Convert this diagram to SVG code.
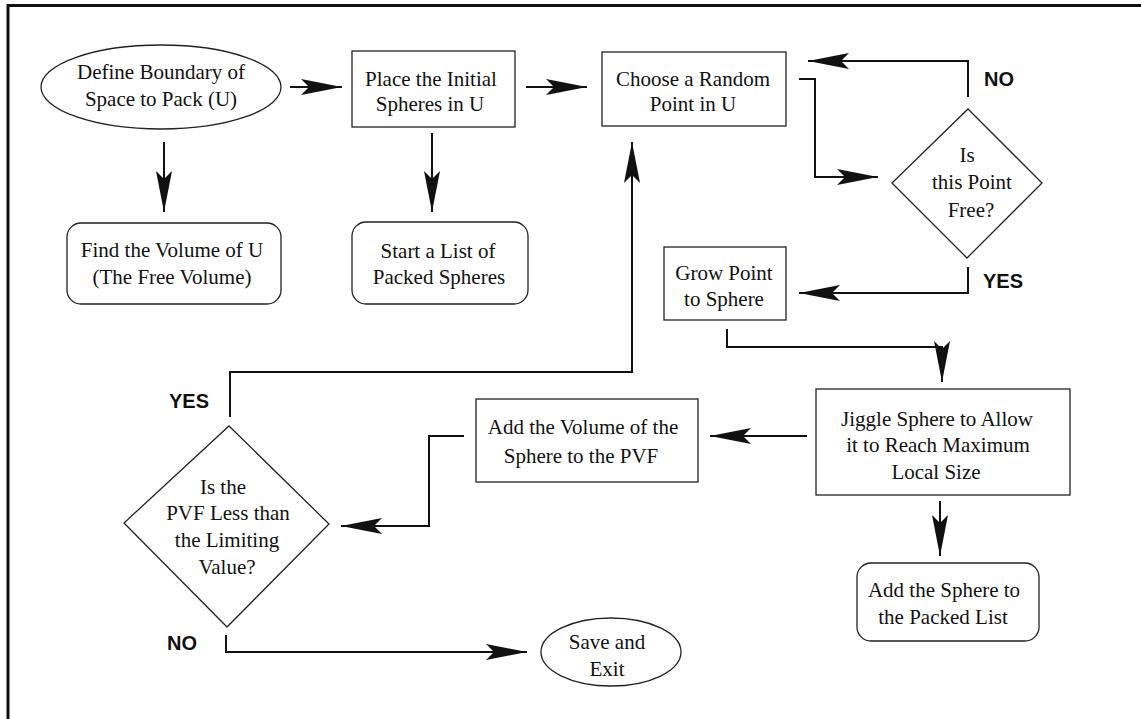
<svg xmlns="http://www.w3.org/2000/svg" width="1141" height="719" viewBox="0 0 1141 719">
<defs>
<style>
.n{fill:#fff;stroke:#222;stroke-width:1.3}
.t{font-family:"Liberation Serif","Times New Roman",serif;font-size:21px;fill:#111;text-anchor:middle}
.l{font-family:"Liberation Sans",Arial,sans-serif;font-size:20px;font-weight:bold;fill:#111}
.c{fill:none;stroke:#111;stroke-width:2}
.f{fill:none;stroke:#111;stroke-width:3}
</style>
<marker id="ah" viewBox="-42 -9 44 18" markerWidth="44" markerHeight="18" refX="0" refY="0" orient="auto" markerUnits="userSpaceOnUse">
<path d="M0,0 L-41,-8 L-33,0 L-41,8 Z" fill="#111"/>
</marker>
</defs>
<rect width="1141" height="719" fill="#fff"/>
<g id="frame">
<path class="f" d="M7,5.5 H1141"/>
<path class="f" d="M8,4 V719"/>
</g>
<g id="connectors">
<path class="c" marker-end="url(#ah)" d="M290,87 H342"/>
<path class="c" marker-end="url(#ah)" d="M164,142 V212"/>
<path class="c" marker-end="url(#ah)" d="M432,133 V212"/>
<path class="c" marker-end="url(#ah)" d="M526,87 H587"/>
<path class="c" marker-end="url(#ah)" d="M799,79 H815 V177 H878"/>
<path class="c" marker-end="url(#ah)" d="M968,97 V61 H808"/>
<path class="c" marker-end="url(#ah)" d="M968,267 V293 H799"/>
<path class="c" marker-end="url(#ah)" d="M727,329 V347 H942 V382"/>
<path class="c" marker-end="url(#ah)" d="M807,436 H710"/>
<path class="c" marker-end="url(#ah)" d="M940,501 V556"/>
<path class="c" marker-end="url(#ah)" d="M464,436 H429 V526 H341"/>
<path class="c" marker-end="url(#ah)" d="M230,417 V372 H632 V142"/>
<path class="c" marker-end="url(#ah)" d="M226,635 V652 H527"/>
</g>
<g id="labels">
<text class="l" x="984" y="86">NO</text>
<text class="l" x="983" y="288">YES</text>
<text class="l" x="169" y="408">YES</text>
<text class="l" x="167" y="650">NO</text>
</g>
<g id="define">
<ellipse class="n" cx="161" cy="87" rx="120" ry="42"/>
<text class="t" x="161" y="79">Define Boundary of</text>
<text class="t" x="161" y="106">Space to Pack (U)</text>
</g>
<g id="place">
<rect class="n" x="352" y="51" width="163" height="76"/>
<text class="t" x="431" y="86">Place the Initial</text>
<text class="t" x="430" y="111">Spheres in U</text>
</g>
<g id="choose">
<rect class="n" x="602" y="52" width="184" height="74"/>
<text class="t" x="693" y="86">Choose a Random</text>
<text class="t" x="693" y="111">Point in U</text>
</g>
<g id="find">
<rect class="n" x="67" y="223" width="214" height="81" rx="14"/>
<text class="t" x="172" y="257">Find the Volume of U</text>
<text class="t" x="172" y="284">(The Free Volume)</text>
</g>
<g id="start">
<rect class="n" x="352" y="222" width="176" height="82" rx="14"/>
<text class="t" x="438" y="258">Start a List of</text>
<text class="t" x="439" y="284">Packed Spheres</text>
</g>
<g id="isfree">
<polygon class="n" points="968,109 1042,183 967,258 892,183"/>
<text class="t" x="967" y="162">Is</text>
<text class="t" x="972" y="189">this Point</text>
<text class="t" x="971" y="217">Free?</text>
</g>
<g id="grow">
<rect class="n" x="664" y="247" width="122" height="73"/>
<text class="t" x="724" y="280">Grow Point</text>
<text class="t" x="724" y="306">to Sphere</text>
</g>
<g id="jiggle">
<rect class="n" x="816" y="389" width="254" height="106"/>
<text class="t" x="937" y="426">Jiggle Sphere to Allow</text>
<text class="t" x="938" y="452">it to Reach Maximum</text>
<text class="t" x="936" y="479">Local Size</text>
</g>
<g id="addvolume">
<rect class="n" x="476" y="399" width="222" height="83"/>
<text class="t" x="583" y="434">Add the Volume of the</text>
<text class="t" x="581" y="463">Sphere to the PVF</text>
</g>
<g id="addsphere">
<rect class="n" x="857" y="563" width="182" height="78" rx="14"/>
<text class="t" x="944" y="597">Add the Sphere to</text>
<text class="t" x="943" y="624">the Packed List</text>
</g>
<g id="pvf">
<polygon class="n" points="229,426 329,524 227,627 124,523"/>
<text class="t" x="223" y="494">Is the</text>
<text class="t" x="228" y="520">PVF Less than</text>
<text class="t" x="227" y="547">the Limiting</text>
<text class="t" x="227" y="574">Value?</text>
</g>
<g id="save">
<ellipse class="n" cx="611" cy="652" rx="70" ry="34"/>
<text class="t" x="607" y="649">Save and</text>
<text class="t" x="607" y="676">Exit</text>
</g>
</svg>
